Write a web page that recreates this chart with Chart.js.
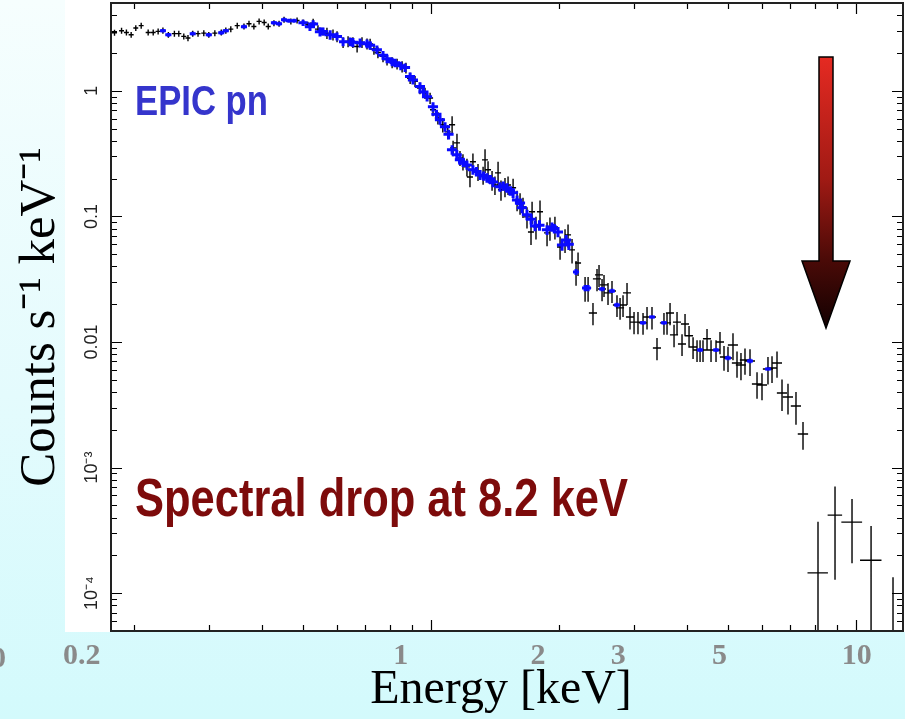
<!DOCTYPE html>
<html><head><meta charset="utf-8">
<script src="https://cdn.jsdelivr.net/npm/chart.js@4.4.1/dist/chart.umd.min.js"></script>
<style>
html,body{margin:0;padding:0;}
body{width:905px;height:719px;overflow:hidden;background:linear-gradient(180deg,#f6fefe 0%,#e4fbfd 55%,#d3fafc 100%);}
canvas{display:block;}
</style></head><body>
<canvas id="c" width="905" height="719"></canvas>
<script>
// ---- data (keV, counts s^-1 keV^-1) ----
const blackEnergy = [
0.180,0.187,0.192,0.197,0.202,0.208,0.216,0.222,0.228,0.234,
0.241,0.249,0.255,0.262,0.268,0.275,0.283,0.292,0.300,0.310,
0.321,0.329,0.338,0.350,0.363,0.373,0.383,0.394,0.405,0.414,
0.427,0.439,0.451,0.468,0.484,0.500,0.513,0.528,0.542,0.557,
0.569,0.588,0.601,0.621,0.638,0.655,0.670,0.688,0.707,0.719,
0.734,0.750,0.771,0.788,0.810,0.832,0.855,0.873,0.893,0.917,
0.942,0.968,0.995,1.011,1.038,1.066,1.095,1.121,1.127,1.151,
1.170,1.189,1.215,1.235,1.255,1.290,1.326,1.340,1.362,1.392,
1.414,1.438,1.461,1.493,1.518,1.560,1.594,1.620,1.646,1.682,
1.719,1.729,1.766,1.805,1.875,1.905,1.957,2.012,2.067,2.101,
2.147,2.194,2.218,2.304,2.342,2.405,2.458,2.485,2.526,2.553,
2.609,2.666,2.739,2.785,2.830,2.892,2.939,3.004,3.069,3.154,
3.223,3.311,3.402,3.533,3.592,3.651,3.731,3.792,3.896,3.960,
4.047,4.136,4.226,4.296,4.365,4.461,4.559,4.684,4.786,4.891,
4.998,5.135,5.248,5.362,5.480,5.631,5.849,6.009,6.207,6.344,
6.518,6.697,6.918,7.224,7.504,8.139,8.925,9.786,10.85,12.22];
const blackCounts = [
2.90,3.01,2.91,2.79,3.16,3.30,2.91,2.91,2.97,3.02,
2.79,2.85,2.85,2.71,2.63,2.85,2.85,2.88,2.79,2.88,
2.91,3.02,3.10,3.30,3.25,3.42,3.25,3.57,3.50,3.25,
3.46,3.42,3.68,3.57,3.63,3.50,3.36,3.46,3.10,2.97,
2.88,2.79,2.71,2.43,2.47,2.43,2.25,2.43,2.37,2.36,
2.15,2.02,1.88,1.77,1.68,1.64,1.56,1.52,1.26,1.19,
1.05,0.959,0.875,0.706,0.609,0.536,0.471,0.536,0.351,0.385,
0.292,0.272,0.248,0.206,0.272,0.226,0.214,0.282,0.235,0.195,
0.178,0.222,0.163,0.172,0.178,0.169,0.135,0.128,0.119,0.0991,
0.0752,0.109,0.0825,0.109,0.0739,0.0810,0.0825,0.0571,0.0650,0.0712,
0.0541,0.0361,0.0426,0.0269,0.0269,0.0170,0.0318,0.0342,0.0264,0.0285,
0.0246,0.0255,0.0197,0.0187,0.0197,0.0246,0.0158,0.0144,0.0144,0.0142,
0.0158,0.0158,0.00896,0.0142,0.0142,0.0170,0.0114,0.0144,0.00964,0.0139,
0.0112,0.00912,0.00864,0.00864,0.00864,0.0106,0.00864,0.00864,0.0100,0.00760,
0.00746,0.00946,0.00680,0.00656,0.00719,0.00706,0.00463,0.00454,0.00609,0.00621,
0.00680,0.00392,0.00365,0.00309,0.00185,0.000145,0.000418,0.000368,0.000183,0.00003];
const blackErr = [
.16,.17,.16,.15,.17,.18,.16,.16,.16,.17,
.15,.16,.16,.15,.15,.16,.16,.16,.15,.16,
.16,.17,.17,.18,.18,.19,.18,.20,.19,.18,
.19,.19,.20,.20,.20,.19,.18,.28,.22,.21,
.29,.28,.27,.24,.25,.24,.23,.24,.24,.24,
.21,.20,.19,.18,.17,.16,.16,.15,.13,.12,
.11,.10,.09,.08,.07,.07,.06,.09,.05,.07,
.04,.04,.04,.035,.045,.035,.035,.06,.04,.035,
.03,.05,.03,.03,.03,.03,.025,.025,.022,.019,
.016,.022,.017,.025,.016,.017,.017,.012,.014,.015,
.012,.008,.009,.006,.006,.0034,.0064,.0068,.0053,.0057,
.0049,.0051,.0039,.0037,.0039,.0049,.0032,.0029,.0029,.0028,
.0032,.0032,.0018,.0028,.0028,.0034,.0023,.0029,.0019,.0028,
.0022,.0018,.0017,.0017,.0017,.0021,.0017,.0017,.002,.0017,
.0017,.0023,.0016,.0016,.0017,.0017,.0011,.0011,.0015,.0015,
.0016,.0011,.001,.0009,.00046,.000225,.00029,.000195,.00016,.000104];
const blackHalfWidth = [
.0025,.0025,.0026,.0027,.0027,.0028,.0029,.003,.0031,.0032,
.0033,.0034,.0035,.0036,.0036,.0037,.0038,.004,.0041,.0042,
.0044,.0045,.0046,.0048,.0049,.0051,.0052,.0054,.0055,.0056,
.0058,.006,.0061,.0064,.0066,.0068,.007,.0087,.0089,.0091,
.0093,.0096,.0099,.010,.0105,.0107,.011,.0113,.0116,.0118,
.012,.0123,.0126,.0129,.0133,.0136,.014,.0143,.0146,.015,
.0155,.0159,.0163,.0166,.017,.0175,.018,.0184,.0185,.0189,
.0192,.0195,.02,.0203,.0206,.0212,.0217,.022,.0223,.0228,
.0232,.0236,.024,.0245,.0249,.0256,.0261,.0266,.027,.0276,
.0282,.0284,.029,.0296,.0308,.0312,.0321,.033,.0339,.0345,
.0352,.036,.0364,.0378,.0384,.053,.054,.054,.055,.056,
.057,.058,.06,.061,.062,.063,.064,.066,.067,.069,
.071,.073,.075,.077,.079,.08,.082,.083,.085,.087,
.089,.091,.093,.094,.096,.098,.1,.103,.105,.107,
.11,.14,.144,.147,.15,.155,.16,.165,.17,.174,
.179,.184,.19,.2,.21,.45,.35,.55,.63,.6];

const blueEnergy = [
0.234,0.241,0.275,0.300,0.321,0.329,0.363,0.427,0.439,0.451,
0.463,0.476,0.500,0.519,0.528,0.548,0.557,0.579,0.601,0.621,
0.645,0.655,0.681,0.707,0.719,0.746,0.771,0.788,0.810,0.823,
0.849,0.869,0.893,0.907,0.942,0.960,0.979,1.011,1.030,1.050,
1.079,1.100,1.121,1.150,1.170,1.190,1.215,1.255,1.280,1.304,
1.330,1.354,1.380,1.399,1.453,1.480,1.510,1.535,1.560,1.594,
1.620,1.637,1.682,1.720,1.757,1.800,1.875,1.926,1.950,1.990,
2.034,2.079,2.110,2.194,2.304,2.342,2.526,2.666,2.739,3.154,
3.311,3.533,4.296,4.684,4.998,5.631,6.207];
const blueCounts = [
3.01,2.79,2.85,2.79,2.90,3.01,3.24,3.48,3.42,3.68,
3.61,3.61,3.48,3.24,3.40,2.95,2.97,2.79,2.71,2.46,
2.46,2.43,2.41,2.37,2.30,2.12,1.92,1.80,1.70,1.67,
1.58,1.53,1.30,1.22,1.08,0.98,0.896,0.746,0.65,0.587,
0.517,0.45,0.339,0.31,0.282,0.27,0.257,0.235,0.228,0.214,
0.21,0.203,0.197,0.188,0.172,0.175,0.169,0.16,0.154,0.135,
0.128,0.117,0.103,0.095,0.0840,0.085,0.0781,0.0825,0.080,0.0752,
0.0593,0.0650,0.060,0.0361,0.0269,0.0269,0.0264,0.0255,0.0197,0.0142,
0.0158,0.0142,0.00864,0.00864,0.00746,0.00706,0.00609];
const blueErr = [
.1,.1,.1,.1,.1,.1,.11,.12,.12,.13,
.13,.13,.2,.25,.25,.25,.22,.24,.2,.2,
.2,.2,.2,.19,.18,.17,.15,.14,.13,.13,
.12,.12,.1,.1,.09,.08,.075,.065,.055,.05,
.045,.04,.03,.027,.025,.023,.022,.02,.019,.019,
.018,.018,.017,.017,.015,.015,.015,.014,.014,.012,
.011,.011,.01,.009,.008,.008,.007,.007,.007,.007,
.006,.006,.006,.002,.0015,.0015,.001,.001,.0008,.0005,
.0005,.0005,.0003,.0003,.0003,.0003,.0002];
const blueHalfWidth = [
.0038,.004,.0045,.005,.0053,.0054,.006,.007,.0072,.0074,
.0076,.0078,.0125,.0143,.0145,.015,.015,.0175,.0165,.0137,
.0177,.018,.0187,.0194,.0198,.0205,.0212,.0216,.0223,.0226,
.0233,.0238,.0245,.0249,.0259,.0264,.0269,.0278,.0283,.0288,
.0297,.0302,.0308,.0316,.0322,.0327,.0334,.0345,.0352,.0359,
.0366,.0372,.038,.0385,.04,.0407,.0415,.0422,.0429,.0438,
.0446,.045,.0462,.0473,.0483,.0495,.0516,.053,.0536,.0547,
.0559,.0571,.058,.036,.038,.038,.041,.044,.045,.052,
.054,.058,.07,.077,.082,.092,.1];

// axis ranges and tick labels
const frameEnergy = [0.177, 12.9];
const frameCounts = [5e-5, 5];
const yTickValues = [1e-4, 1e-3, 0.01, 0.1, 1];
const yTickLabels = ['10\u207B\u2074', '10\u207B\u00B3', '0.01', '0.1', '1'];
const xTickValues = [0.2, 1, 2, 3, 5, 10];
const xTickLabels = ['0.2', '1', '2', '3', '5', '10'];

// ---- build error-bar crosses (line segments separated by gaps) ----
function crossData(E, V, err, hw) {
  const pts = [];
  for (let i = 0; i < E.length; i++) {
    pts.push({x: E[i] - hw[i], y: V[i]}, {x: E[i] + hw[i], y: V[i]}, {x: E[i], y: null});
    pts.push({x: E[i], y: Math.max(V[i] - err[i], 1e-8)}, {x: E[i], y: V[i] + err[i]}, {x: E[i], y: null});
  }
  return pts;
}

const SERIF = '"Liberation Serif","Times New Roman",serif';
const SANS = '"Liberation Sans",Arial,sans-serif';

function fitText(ctx, text, x, y, targetW) {
  const w = ctx.measureText(text).width;
  ctx.save();
  ctx.translate(x, y);
  ctx.scale(targetW / w, 1);
  ctx.fillText(text, 0, 0);
  ctx.restore();
}

const decorPlugin = {
  id: 'decor',
  afterLayout(chart) {
    // the slide's axis title sits slightly right of the plot centre
    const s = chart.scales.xl;
    s.left += 30; s.right += 2;
  },
  beforeDraw(chart) {
    const ctx = chart.ctx;
    ctx.save();
    ctx.fillStyle = '#ffffff';
    ctx.fillRect(65, 0, 840, 632);
    ctx.restore();
  },
  afterDatasetsDraw(chart) {
    const ctx = chart.ctx;
    const xs = chart.scales.x, ys = chart.scales.y;
    const L = Math.round(xs.getPixelForValue(frameEnergy[0]));
    const R = Math.round(xs.getPixelForValue(frameEnergy[1]));
    const T = Math.round(ys.getPixelForValue(frameCounts[1]));
    const B = Math.round(ys.getPixelForValue(frameCounts[0]));
    ctx.save();
    ctx.strokeStyle = '#000';
    ctx.lineWidth = 1.2;
    ctx.beginPath();
    for (let e = -1; e <= 1; e++) {
      for (let k = 1; k <= 9; k++) {
        const v = k * Math.pow(10, e);
        if (v < frameEnergy[0] || v > frameEnergy[1]) continue;
        const px = Math.round(xs.getPixelForValue(v)) + 0.5;
        const len = k === 1 ? 11 : 6;
        ctx.moveTo(px, T); ctx.lineTo(px, T + len);
        ctx.moveTo(px, B); ctx.lineTo(px, B - len);
      }
    }
    for (let e = -5; e <= 0; e++) {
      for (let k = 1; k <= 9; k++) {
        const v = k * Math.pow(10, e);
        if (v < frameCounts[0] * 0.999 || v > frameCounts[1] * 1.001) continue;
        const py = Math.round(ys.getPixelForValue(v)) + 0.5;
        const len = k === 1 ? 11 : 6;
        ctx.moveTo(L, py); ctx.lineTo(L + len, py);
        ctx.moveTo(R, py); ctx.lineTo(R - len, py);
      }
    }
    ctx.stroke();
    ctx.lineWidth = 2;
    ctx.strokeStyle = '#222';
    ctx.strokeRect(L, T, R - L, B - T);

    // annotations
    ctx.textBaseline = 'alphabetic';
    ctx.textAlign = 'left';
    ctx.fillStyle = '#3535cc';
    ctx.font = 'bold 42px ' + SANS;
    fitText(ctx, 'EPIC pn', 135, 115, 133);
    ctx.fillStyle = '#7d0b0b';
    ctx.font = 'bold 53px ' + SANS;
    fitText(ctx, 'Spectral drop at 8.2 keV', 135, 516, 493);

    // arrow
    const g = ctx.createLinearGradient(0, 57, 0, 328);
    g.addColorStop(0, '#e52a22');
    g.addColorStop(0.45, '#a01a14');
    g.addColorStop(0.75, '#4a0a07');
    g.addColorStop(1, '#120101');
    ctx.beginPath();
    ctx.moveTo(819, 57); ctx.lineTo(833, 57); ctx.lineTo(833, 261);
    ctx.lineTo(850, 261); ctx.lineTo(826, 328); ctx.lineTo(802, 261);
    ctx.lineTo(819, 261); ctx.closePath();
    ctx.fillStyle = g;
    ctx.fill();
    ctx.lineWidth = 1.5;
    ctx.strokeStyle = '#000';
    ctx.stroke();

    // clipped label fragment at far left
    ctx.fillStyle = '#8a8a8a';
    ctx.font = 'bold 30px ' + SERIF;
    ctx.textAlign = 'right';
    ctx.fillText('0', 6, 667);
    ctx.restore();
  }
};

function noPad(s) { s.paddingTop = 0; s.paddingBottom = 0; s.paddingLeft = 0; s.paddingRight = 0; }

new Chart(document.getElementById('c'), {
  type: 'line',
  data: {
    datasets: [
      {
        label: 'EPIC pn (blue)',
        data: crossData(blueEnergy, blueCounts, blueErr, blueHalfWidth),
        borderColor: '#0a0aff', borderWidth: 3, pointRadius: 0, pointHoverRadius: 0,
        fill: false, tension: 0, spanGaps: false, xAxisID: 'x', yAxisID: 'y', order: 0
      },
      {
        label: 'EPIC pn',
        data: crossData(blackEnergy, blackCounts, blackErr, blackHalfWidth),
        borderColor: '#000000', borderWidth: 1.4, pointRadius: 0, pointHoverRadius: 0,
        fill: false, tension: 0, spanGaps: false, xAxisID: 'x', yAxisID: 'y', order: 1
      }
    ]
  },
  options: {
    responsive: false, animation: false, devicePixelRatio: 1,
    layout: {padding: {top: 3, left: 0, right: 0, bottom: 0}},
    plugins: {legend: {display: false}, tooltip: {enabled: false}},
    scales: {
      x: {type: 'logarithmic', position: 'bottom', min: 0.13765, max: 13.04, display: false, bounds: 'data'},
      xl: {
        type: 'logarithmic', axis: 'x', position: 'bottom', min: 0.1837, max: 12.76, bounds: 'data',
        grid: {display: false, drawTicks: false}, border: {display: false},
        afterBuildTicks: s => { s.ticks = xTickValues.map(v => ({value: v})); },
        afterFit: s => { s.height = 88; noPad(s); },
        ticks: {
          autoSkip: false, maxRotation: 0, minRotation: 0, padding: 7, color: '#8a8a8a',
          font: {family: SERIF, size: 30, weight: 'bold'},
          callback: (v, i) => xTickLabels[i]
        },
        title: {display: true, text: 'Energy [keV]', color: '#000', font: {family: SERIF, size: 48}, padding: {top: 0, bottom: 0}}
      },
      y: {
        type: 'logarithmic', position: 'left', min: frameCounts[0], max: frameCounts[1], bounds: 'data',
        grid: {display: false, drawTicks: false}, border: {display: false},
        afterBuildTicks: s => { s.ticks = yTickValues.map(v => ({value: v})); },
        afterFit: s => { s.width = 65; noPad(s); },
        ticks: {
          mirror: true, crossAlign: 'center', minRotation: 90, maxRotation: 90, padding: 10,
          autoSkip: false, color: '#222', font: {family: SANS, size: 18},
          callback: (v, i) => yTickLabels[i]
        },
        title: {display: true, text: 'Counts s\u207B\u00B9 keV\u207B\u00B9', color: '#000', font: {family: SERIF, size: 51}, padding: {top: 10, bottom: 0}}
      }
    }
  },
  plugins: [decorPlugin]
});
</script></body></html>
